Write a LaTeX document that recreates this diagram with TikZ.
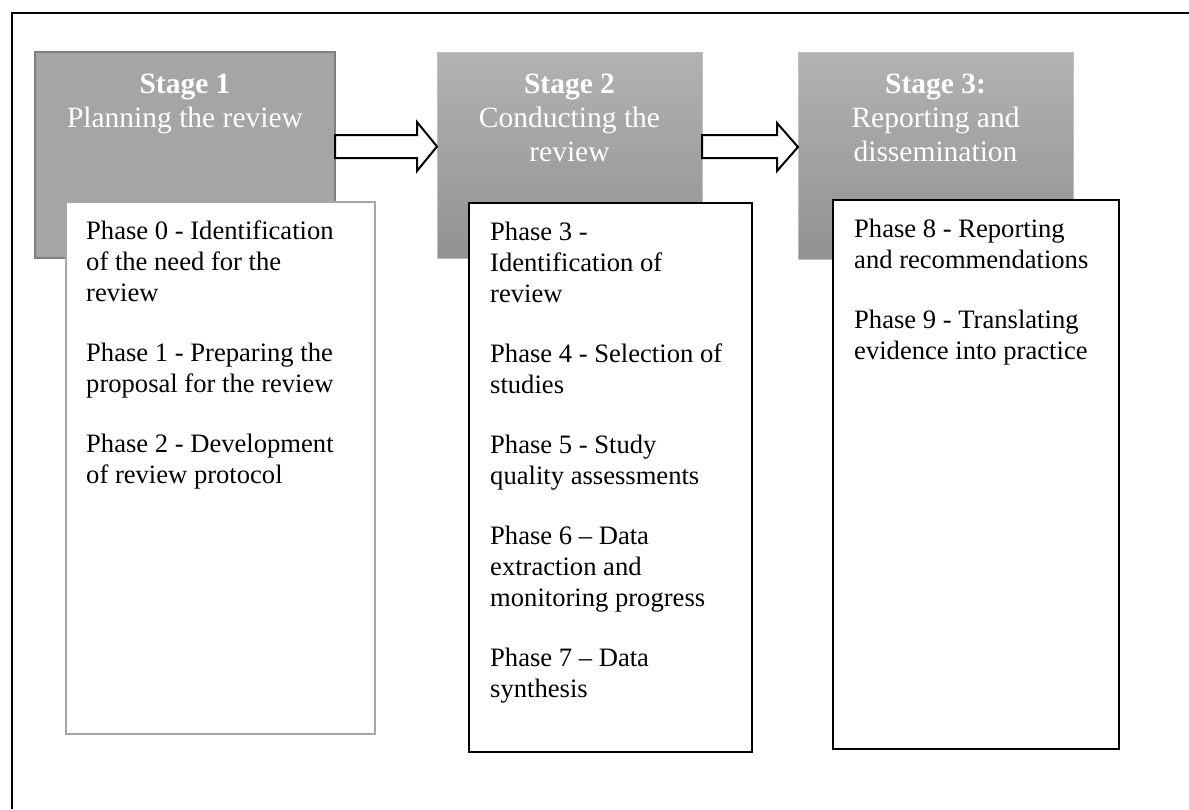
\documentclass[tikz,border=0pt]{standalone}
\usepackage{fontspec}
\setmainfont{Liberation Serif}
\definecolor{stagegray}{HTML}{A5A5A5}
\definecolor{stageedge}{HTML}{808080}
\definecolor{gradtop}{HTML}{B2B2B2}
\definecolor{gradbot}{HTML}{929292}
\definecolor{lightedge}{HTML}{BDBDBD}
\definecolor{phaseedge}{HTML}{A6A6A6}
\begin{document}
\begin{tikzpicture}[x=1pt,y=-1pt,
  stagebox/.style={anchor=north west, inner sep=0pt, outer sep=0pt},
  stagetext/.style={anchor=north, inner sep=0pt, align=center, text=white,
    font=\fontsize{29.5}{34}\selectfont},
  phasebox/.style={anchor=north west, inner sep=0pt, outer sep=0pt, fill=white},
  phasetext/.style={anchor=north west, inner sep=0pt, align=left,
    font=\fontsize{26.6}{31}\selectfont},
  blockarrow/.style={draw=black, fill=white, line width=2pt, line join=miter}]
\useasboundingbox (0,0) rectangle (1189,809);
% outer frame (cut off at the right and bottom)
\coordinate (fbl) at (12,809);
\coordinate (ftl) at (12,13);
\coordinate (ftr) at (1189,13);
\draw[line width=2pt] (fbl) -- (ftl) -- (ftr);
% stage boxes
\node[stagebox, fill=stagegray, draw=stageedge, line width=1.5pt,
  minimum width=300pt, minimum height=206pt] (s1) at (35,52) {};
\node[stagebox, top color=gradtop, bottom color=gradbot, draw=lightedge, line width=1pt,
  minimum width=265pt, minimum height=206pt] (s2) at (437,52) {};
\node[stagebox, top color=gradtop, bottom color=gradbot, draw=lightedge, line width=1pt,
  minimum width=275pt, minimum height=207pt] (s3) at (798,52) {};
\node[stagetext] (t1) at (185,69.7) {\strut\textbf{Stage 1}\\Planning the review};
\node[stagetext] (t2) at (569.5,69.7) {\strut\textbf{Stage 2}\\Conducting the\\review};
\node[stagetext] (t3) at (935.5,69.7) {\strut\textbf{Stage 3:}\\Reporting and\\dissemination};
% block arrows
\coordinate (a1s) at (s1.east |- 0,135);
\draw[blockarrow] (a1s) -- (417,135) -- (417,122) -- (s2.west |- 0,146.5) -- (417,171) -- (417,158) -- (335,158) -- cycle;
\coordinate (a2s) at (s2.east |- 0,135);
\draw[blockarrow] (a2s) -- (777,135) -- (777,123) -- (s3.west |- 0,147) -- (777,171) -- (777,158) -- (702,158) -- cycle;
% phase boxes
\node[phasebox, draw=phaseedge, line width=2.5pt,
  minimum width=309pt, minimum height=532pt] (p1) at (66,202) {};
\node[phasebox, draw=black, line width=2.5pt,
  minimum width=283pt, minimum height=549pt] (p2) at (469,203) {};
\node[phasebox, draw=black, line width=2.5pt,
  minimum width=286pt, minimum height=549pt] (p3) at (833,200) {};
\node[phasetext] (q1) at (86,217.3) {\strut Phase 0 - Identification\\of the need for the\\review\\[29pt]%
Phase 1 - Preparing the\\proposal for the review\\[29pt]%
Phase 2 - Development\\of review protocol};
\node[phasetext] (q2) at (490,218.3) {\strut Phase 3 -\\Identification of\\review\\[29pt]%
Phase 4 - Selection of\\studies\\[29pt]%
Phase 5 - Study\\quality assessments\\[29pt]%
Phase 6 – Data\\extraction and\\monitoring progress\\[29pt]%
Phase 7 – Data\\synthesis};
\node[phasetext] (q3) at (854,215.3) {\strut Phase 8 - Reporting\\and recommendations\\[29pt]%
Phase 9 - Translating\\evidence into practice};
\end{tikzpicture}
\end{document}
